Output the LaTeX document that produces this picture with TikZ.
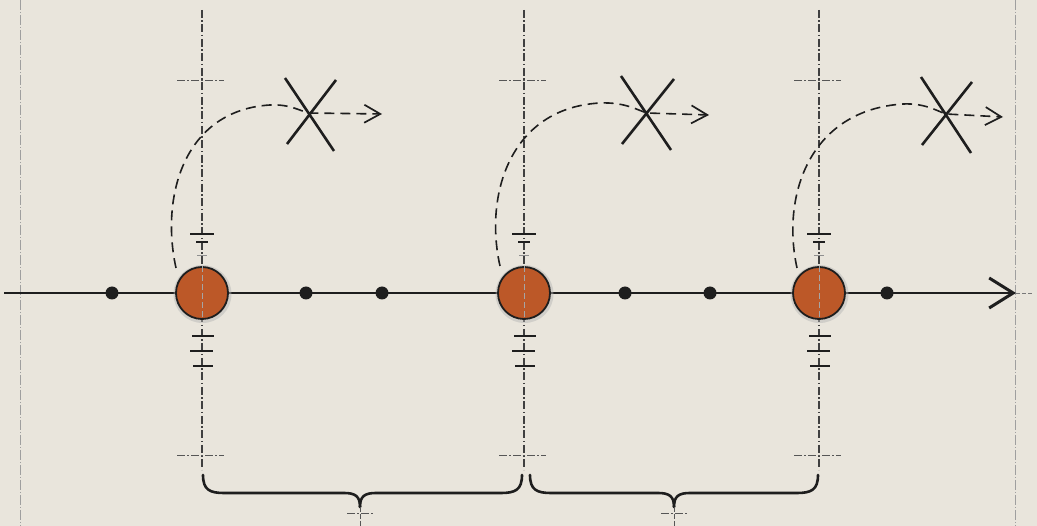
\documentclass[tikz,border=0pt]{standalone}
\usetikzlibrary{arrows.meta}
\definecolor{paper}{HTML}{E9E5DC}
\definecolor{ink}{HTML}{1E1E1E}
\definecolor{rust}{HTML}{BC5828}
\tikzset{
 guide/.style={ink!85, line width=1.1pt, dash pattern=on 8pt off 2.5pt on 1.5pt off 2.5pt},
 margin/.style={gray!75, line width=0.6pt, dash pattern=on 10pt off 2pt on 1pt off 2pt},
 crosstick/.style={ink!75, line width=0.9pt, dash pattern=on 8pt off 2pt on 2pt off 2pt},
 tick/.style={ink, line width=1.1pt},
 faintick/.style={ink!50, line width=0.9pt},
 axisline/.style={ink, line width=2.3pt},
 bigdot/.style={circle, fill=rust, draw=ink, line width=1.8pt, minimum size=52pt, inner sep=0pt},
 halo/.style={fill=gray!60, opacity=0.45},
 smalldot/.style={circle, fill=ink, minimum size=13pt, inner sep=0pt},
 jump/.style={ink, line width=1.6pt, dash pattern=on 10pt off 6pt, -{Straight Barb[length=16pt,width=18pt,line width=1.7pt]}},
 cross/.style={ink, line width=2.6pt},
 brace/.style={ink, line width=2.6pt, line cap=round},
}
\begin{document}
\begin{tikzpicture}[x=1pt,y=-1pt]
\fill[paper] (0,0) rectangle (1037,526);
\useasboundingbox (0,0) rectangle (1037,526);
% page margins
\draw[margin] (20,0) -- (20,526);
\draw[margin] (1015,0) -- (1015,526);
% vertical guides with ticks
\foreach \x/\n in {202/1,524/2,819/3}{
  \coordinate (top\n) at (\x,10);
  \coordinate (bot\n) at (\x,470);
  \draw[guide] (top\n) -- (bot\n);
  \draw[crosstick] (\x-25,80) -- (\x+22,80);
  \draw[crosstick] (\x-25,455) -- (\x+22,455);
  \draw[tick] (\x-12,234) -- (\x+12,234);
  \draw[tick] (\x-6,242) -- (\x+6,242);
  \draw[faintick] (\x-5,255) -- (\x+5,255);
  \draw[tick] (\x-10,336) -- (\x+12,336);
  \draw[tick] (\x-12,351) -- (\x+11,351);
  \draw[tick] (\x-9,366) -- (\x+11,366);
}
% main axis
\coordinate (a0) at (4,293);
\coordinate (a1) at (1016,293);
\coordinate (a2) at (1032,293);
\draw[ink!60, line width=0.8pt, dash pattern=on 4pt off 2pt] (a1) -- (a2);
\draw[axisline, -{Straight Barb[length=24pt,width=30pt,line width=3pt]}] (a0) -- (a1);
% big circles
\foreach \x/\n in {202/1,524/2,819/3}{
  \fill[halo] (\x+0.5,294) circle (29);
  \node[bigdot] (c\n) at (\x,293) {};
  \draw[ink!40, line width=0.8pt, dash pattern=on 6pt off 3pt] (c\n.north) -- (c\n.south);
}
% small dots
\node[smalldot] (d1) at (112,293) {};
\node[smalldot] (d2) at (306,293) {};
\node[smalldot] (d3) at (382,293) {};
\node[smalldot] (d4) at (625,293) {};
\node[smalldot] (d5) at (710,293) {};
\node[smalldot] (d6) at (887,293) {};
% jump arcs
\coordinate (s1) at (176,268); \coordinate (p1) at (270,105); \coordinate (x1) at (309,113); \coordinate (t1) at (382,114);
\coordinate (s2) at (500,266); \coordinate (p2) at (600,103); \coordinate (x2) at (647,113); \coordinate (t2) at (709,115);
\coordinate (s3) at (797,268); \coordinate (p3) at (903,104); \coordinate (x3) at (946,114); \coordinate (t3) at (1003,117);
\draw[jump] (s1) .. controls (160,195) and (185,110) .. (p1) .. controls (290,104) and (300,111) .. (x1) -- (t1);
\draw[jump] (s2) .. controls (484,195) and (510,108) .. (p2) .. controls (625,102) and (637,110) .. (x2) -- (t2);
\draw[jump] (s3) .. controls (781,195) and (810,110) .. (p3) .. controls (925,103) and (937,111) .. (x3) -- (t3);
% X marks
\draw[cross] (285,78) -- (334,151) (336,80) -- (287,144);
\draw[cross] (621,76) -- (671,150) (674,79) -- (622,144);
\draw[cross] (921,77) -- (971,153) (972,82) -- (922,145);
% braces
\coordinate (b1l) at (203,475); \coordinate (b1m) at (360,507); \coordinate (b1r) at (522,475);
\coordinate (b2l) at (530,475); \coordinate (b2m) at (674,507); \coordinate (b2r) at (818,475);
\draw[brace] (b1l) .. controls (203,490) and (210,493) .. (224,493) -- (344,493) .. controls (355,493) and (360,496) .. (b1m);
\draw[brace] (b1m) .. controls (360,496) and (365,493) .. (376,493) -- (501,493) .. controls (515,493) and (522,490) .. (b1r);
\draw[brace] (b2l) .. controls (530,490) and (537,493) .. (551,493) -- (658,493) .. controls (669,493) and (674,496) .. (b2m);
\draw[brace] (b2m) .. controls (674,496) and (679,493) .. (690,493) -- (797,493) .. controls (811,493) and (818,490) .. (b2r);
\foreach \m/\x in {b1m/360,b2m/674}{
  \coordinate (\m e) at (\x,526);
  \draw[ink!75, line width=0.9pt, dash pattern=on 5pt off 2pt] (\m) -- (\m e);
  \draw[crosstick] (\x-13,513) -- (\x+14,513);
}
\end{tikzpicture}
\end{document}
